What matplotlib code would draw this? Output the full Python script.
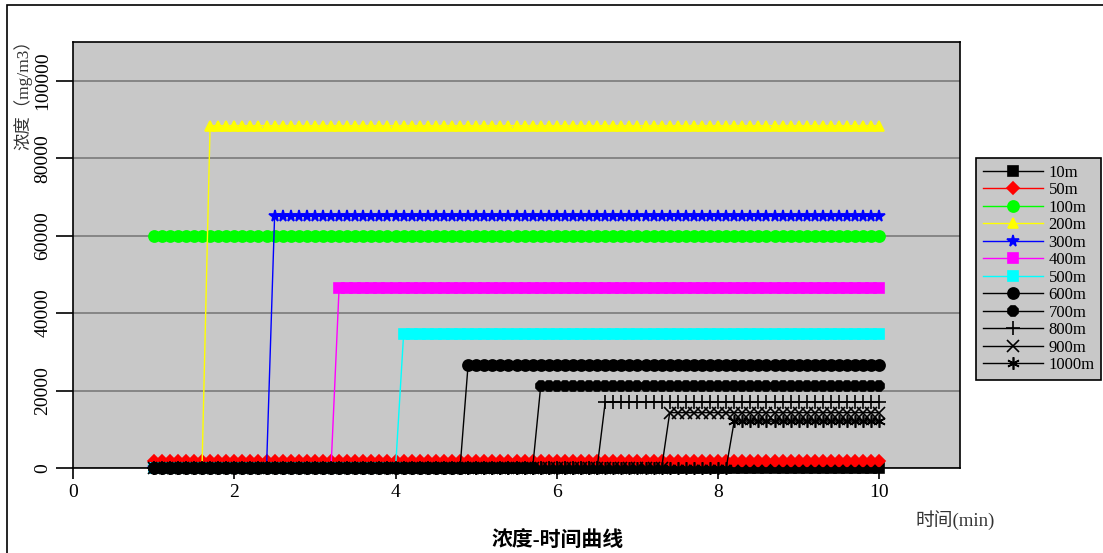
import numpy as np
import matplotlib
matplotlib.use("Agg")
import matplotlib.pyplot as plt
from matplotlib.patches import Rectangle

plt.rcParams['font.family'] = ['Liberation Serif', 'Noto Sans CJK SC', 'DejaVu Sans']

# time points (min)
time = np.round(np.arange(1.0, 10.01, 0.1), 1)

labels = ["10m", "50m", "100m", "200m", "300m", "400m", "500m",
          "600m", "700m", "800m", "900m", "1000m"]
# time the cloud arrives (first non-zero point) and plateau concentration (mg/m3)
arrival = [1.0, 1.0, 1.0, 1.7, 2.5, 3.3, 4.1, 4.9, 5.8, 6.6, 7.4, 8.2]
plateau = [0, 1800, 60000, 88400, 65000, 46500, 34500, 26700, 21100, 17000, 14300, 12100]

colors = ["black", "red", "#00ff00", "yellow", "blue", "magenta", "cyan",
          "black", "black", "black", "black", "black"]
markers = ["s", "D", "o", "^", "*", "s", "s", "o", "8", "+", "x", (6, 2, 0)]
msizes = [7, 6.5, 8, 7.5, 8.5, 6.5, 6.5, 8, 8, 10, 8, 9]

fig = plt.figure(figsize=(11.03, 5.53), dpi=100)
ax = fig.add_axes([73/1103, 1-468/553, (960-73)/1103, (468-42)/553])
ax.set_facecolor("#c8c8c8")

for lab, t0, val, c, m, ms in zip(labels, arrival, plateau, colors, markers, msizes):
    conc = np.where(time >= t0 - 1e-9, val, 0)
    ax.plot(time, conc, color=c, marker=m, markersize=ms, linewidth=1,
            markeredgewidth=1.2, label=lab, clip_on=False)

ax.set_xlim(0, 11)
ax.set_ylim(0, 110000)
ax.set_xticks([0, 2, 4, 6, 8, 10])
ax.set_yticks([0, 20000, 40000, 60000, 80000, 100000])
ax.yaxis.grid(True, color="#808080", linewidth=1.3)
ax.set_axisbelow(True)
ax.tick_params(axis='y', direction='out', length=12, width=1.2, labelsize=14,
               labelrotation=90)
ax.tick_params(axis='x', direction='out', length=8, width=1.2, labelsize=14)
for lbl in ax.get_yticklabels():
    lbl.set_va('center')
for s in ax.spines.values():
    s.set_color("black")
    s.set_linewidth(1.2)

fig.text(0.021, 1-31/553, "浓度（mg/m3）", rotation=90, va='top', ha='center',
         fontsize=12.5, color="#333333")
fig.text(955/1103, 1-520/553, "时间(min)", ha='center', va='center',
         fontsize=13.5, color="#333333")
fig.text(558/1103, 1-541/553, "浓度-时间曲线", ha='center', va='center',
         fontsize=15, fontweight='bold')

leg = fig.legend(loc='upper left', bbox_to_anchor=(976/1103, 1-158/553),
                 borderaxespad=0, fancybox=False, framealpha=1,
                 facecolor="#c8c8c8", edgecolor="black", fontsize=12,
                 handlelength=3.6, labelspacing=0.09, handletextpad=0.35,
                 borderpad=0.4)
leg.get_frame().set_linewidth(1.2)

fig.patches.append(Rectangle((7/1103, -0.1), 1.1, 1.1 - 5/553,
                             transform=fig.transFigure, fill=False,
                             edgecolor="black", linewidth=1.2))

fig.savefig("out.png", dpi=100)
